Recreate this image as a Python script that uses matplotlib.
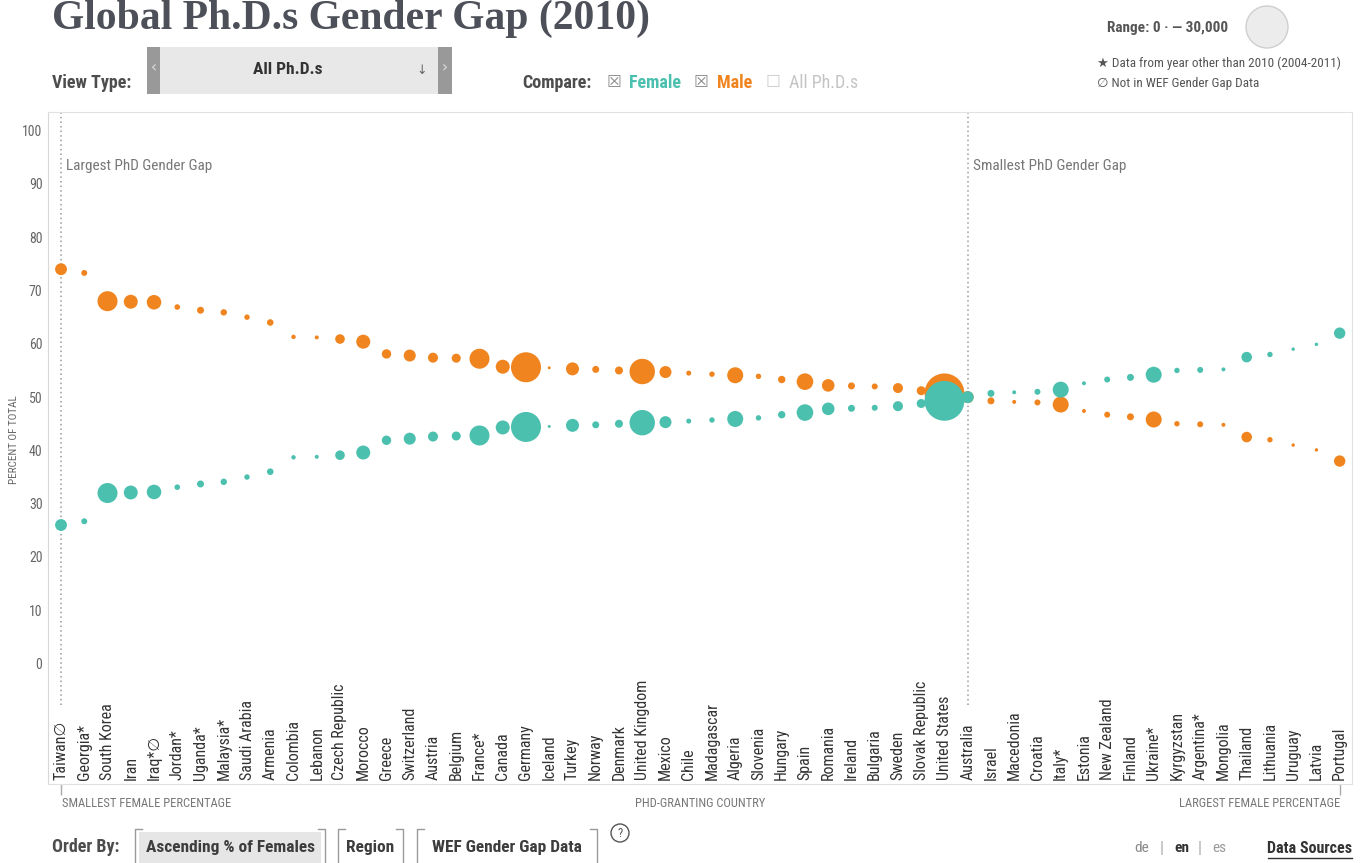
import matplotlib
matplotlib.use("Agg")
import matplotlib.pyplot as plt
from matplotlib import font_manager
from matplotlib.patches import Rectangle, Ellipse
from matplotlib.lines import Line2D
import numpy as np

# PhD-granting countries, ordered by ascending share of female graduates
countries = [
    "Taiwan∅", "Georgia*", "South Korea", "Iran", "Iraq*∅", "Jordan*", "Uganda*",
    "Malaysia*", "Saudi Arabia", "Armenia", "Colombia", "Lebanon", "Czech Republic",
    "Morocco", "Greece", "Switzerland", "Austria", "Belgium", "France*", "Canada",
    "Germany", "Iceland", "Turkey", "Norway", "Denmark", "United Kingdom", "Mexico",
    "Chile", "Madagascar", "Algeria", "Slovenia", "Hungary", "Spain", "Romania",
    "Ireland", "Bulgaria", "Sweden", "Slovak Republic", "United States", "Australia",
    "Israel", "Macedonia", "Croatia", "Italy*", "Estonia", "New Zealand", "Finland",
    "Ukraine*", "Kyrgyzstan", "Argentina*", "Mongolia", "Thailand", "Lithuania",
    "Uruguay", "Latvia", "Portugal",
]

female_pct = [
    26.0, 26.7, 32.0, 32.1, 32.2, 33.1, 33.7, 34.1, 35.0, 36.0, 38.7, 38.8, 39.1,
    39.6, 41.9, 42.2, 42.6, 42.7, 42.8, 44.3, 44.4, 44.5, 44.7, 44.8, 45.0, 45.2,
    45.3, 45.5, 45.7, 45.9, 46.1, 46.7, 47.1, 47.8, 47.9, 48.0, 48.3, 48.8, 49.3,
    50.0, 50.7, 50.9, 51.0, 51.4, 52.6, 53.3, 53.7, 54.2, 55.0, 55.1, 55.2, 57.5,
    58.0, 59.0, 59.9, 62.0,
]
male_pct = [100 - f for f in female_pct]

# total PhDs awarded (sets the bubble area)
phd_totals = [
    2400, 600, 6800, 3300, 3600, 530, 830, 700, 500, 740, 330, 270, 1570,
    3330, 1500, 2450, 1700, 1380, 6800, 3330, 15300, 150, 2870, 830, 1090, 11000,
    2450, 425, 500, 4350, 500, 930, 4700, 2700, 830, 610, 1700, 1380, 27000,
    2450, 830, 270, 610, 4350, 270, 610, 830, 4350, 500, 610, 270, 1900,
    500, 200, 200, 2200,
]

y_ticks = list(range(0, 101, 10))

ORANGE = "#F0841F"
TEAL = "#4BC0AE"
DARK = "#4d4d4d"
MID = "#777777"

W, H = 1365, 863

installed = {f.name for f in font_manager.fontManager.ttflist}
narrow = next((n for n in ["Roboto Condensed", "Asap Condensed", "Archivo Narrow"]
               if n in installed), "Open Sans")
NARROW = [narrow, "DejaVu Sans"]

fig = plt.figure(figsize=(W / 100, H / 100), dpi=100)
fig.patch.set_facecolor("white")


def fx(x):
    return x / W


def fy(y):
    return 1 - y / H


def ftext(x, y, s, **kw):
    kw.setdefault("family", NARROW)
    kw.setdefault("va", "center")
    return fig.text(fx(x), fy(y), s, **kw)


def frect(x0, y0, x1, y1, **kw):
    fig.add_artist(Rectangle((fx(x0), fy(y1)), (x1 - x0) / W, (y1 - y0) / H,
                             transform=fig.transFigure, **kw))


def fline(xs, ys, **kw):
    fig.add_artist(Line2D([fx(x) for x in xs], [fy(y) for y in ys],
                          transform=fig.transFigure, **kw))


# main bubble panel
ax = fig.add_axes([fx(48), fy(784), (1352 - 48) / W, (784 - 112) / H])
n = len(countries)
xs = np.arange(n)
ax.set_xlim(-0.56, 55.53)
ax.set_ylim(-22.6, 103.5)

area = 914.5 / 30000
ax.scatter(xs, male_pct, s=np.array(phd_totals) * area, color=ORANGE, lw=0, zorder=3)
ax.scatter(xs, female_pct, s=np.array(phd_totals) * area, color=TEAL, lw=0, zorder=4)

aus = countries.index("Australia")
ax.vlines([0, aus], -7.8, 103.5, colors="#9a9a9a", linestyles=(0, (1, 2)), lw=1.1, zorder=2)
ax.text(0.22, 93.3, "Largest PhD Gender Gap", color=MID, fontsize=11, family=NARROW, va="center")
ax.text(aus + 0.22, 93.3, "Smallest PhD Gender Gap", color=MID, fontsize=11, family=NARROW, va="center")

for i, name in enumerate(countries):
    ax.text(i, 0.006, name, transform=ax.get_xaxis_transform(), rotation=90,
            ha="center", va="bottom", fontsize=11.5, color="#333333", family=NARROW)

ax.set_yticks(y_ticks)
ax.set_yticklabels([str(v) for v in y_ticks], family=NARROW, fontsize=10, color="#666")
ax.tick_params(axis="y", length=0, pad=4)
ax.set_xticks([0, n - 1])
ax.set_xticklabels(["", ""])
ax.tick_params(axis="x", length=8, color="#aaaaaa", width=1)
for sp in ax.spines.values():
    sp.set_color("#e2e2e2")
ax.spines["left"].set_color("#d8d8d8")

ftext(14, 440, "PERCENT OF TOTAL", rotation=90, ha="center", fontsize=8, color="#666")
ftext(62, 803, "SMALLEST FEMALE PERCENTAGE", fontsize=9, color=MID)
ftext(700, 803, "PHD-GRANTING COUNTRY", ha="center", fontsize=9, color=MID)
ftext(1340, 803, "LARGEST FEMALE PERCENTAGE", ha="right", fontsize=9, color=MID)

# header
fig.text(fx(52), fy(29), "Global Ph.D.s Gender Gap (2010)", family="Liberation Serif",
         weight="bold", fontsize=30, color="#4d5059", va="baseline")

ftext(52, 83, "View Type:", fontsize=13, weight="bold", color=DARK)
frect(147, 47, 452, 94, facecolor="#e8e8e8", edgecolor="none")
frect(147, 47, 160, 94, facecolor="#999999", edgecolor="none")
frect(438, 47, 452, 94, facecolor="#999999", edgecolor="none")
ftext(153.5, 68, "‹", ha="center", fontsize=11, color="#dddddd", family="DejaVu Sans")
ftext(445, 68, "›", ha="center", fontsize=11, color="#dddddd", family="DejaVu Sans")
ftext(288, 70, "All Ph.D.s", ha="center", fontsize=12.5, weight="bold", color="#333")
ftext(422, 71, "↓", ha="center", fontsize=9, color="#666", family="DejaVu Sans")

ftext(522, 83, "Compare:", fontsize=13, weight="bold", color=DARK)
ftext(607, 82, "☒", fontsize=12, color="#8a8a8a", family="DejaVu Sans")
ftext(629, 83, "Female", fontsize=13, weight="bold", color=TEAL)
ftext(694, 82, "☒", fontsize=12, color="#8a8a8a", family="DejaVu Sans")
ftext(717, 83, "Male", fontsize=13, weight="bold", color=ORANGE)
ftext(766, 82, "☐", fontsize=12, color="#cccccc", family="DejaVu Sans")
ftext(789, 83, "All Ph.D.s", fontsize=13, color="#c4c4c4")

ftext(1107, 28, "Range: 0 · — 30,000", fontsize=11, weight="bold", color="#555")
fig.add_artist(Ellipse((fx(1267), fy(27)), 42 / W, 42 / H, transform=fig.transFigure,
                       facecolor="#ececec", edgecolor="#cfcfcf", lw=1))
ftext(1097, 63, "★ Data from year other than 2010 (2004-2011)", fontsize=9.5, color="#555")
ftext(1097, 84, "∅ Not in WEF Gender Gap Data", fontsize=9.5, color="#555")

# footer controls
ftext(52, 847, "Order By:", fontsize=13, weight="bold", color=DARK)
buttons = [(135, 325, "Ascending % of Females", "#e6e6e6"),
           (338, 403, "Region", "none"),
           (417, 597, "WEF Gender Gap Data", "none")]
for x0, x1, label, face in buttons:
    frect(x0 + 4, 832, x1 - 4, 863, facecolor=face, edgecolor="none")
    fline([x0 + 7, x0, x0], [829, 829, 863], color="#9a9a9a", lw=1)
    fline([x1 - 7, x1, x1], [829, 829, 863], color="#9a9a9a", lw=1)
    ftext((x0 + x1) / 2, 847, label, ha="center", fontsize=12.5, weight="bold", color="#3d3d3d")
fig.add_artist(Ellipse((fx(620), fy(833)), 18 / W, 18 / H, transform=fig.transFigure,
                       facecolor="none", edgecolor="#555", lw=1))
ftext(620, 833, "?", ha="center", fontsize=9, color="#555")

ftext(1142, 848, "de", ha="center", fontsize=11, color="#888")
ftext(1162, 848, "|", ha="center", fontsize=12, color="#aaa")
ftext(1182, 848, "en", ha="center", fontsize=11, weight="bold", color="#333")
ftext(1200, 848, "|", ha="center", fontsize=12, color="#aaa")
ftext(1219, 848, "es", ha="center", fontsize=11, color="#999")
ftext(1352, 848, "Data Sources", ha="right", fontsize=11.5, weight="bold", color="#333")
fline([1268, 1352], [858, 858], color="#333", lw=1)

fig.savefig("out.png", dpi=100)
